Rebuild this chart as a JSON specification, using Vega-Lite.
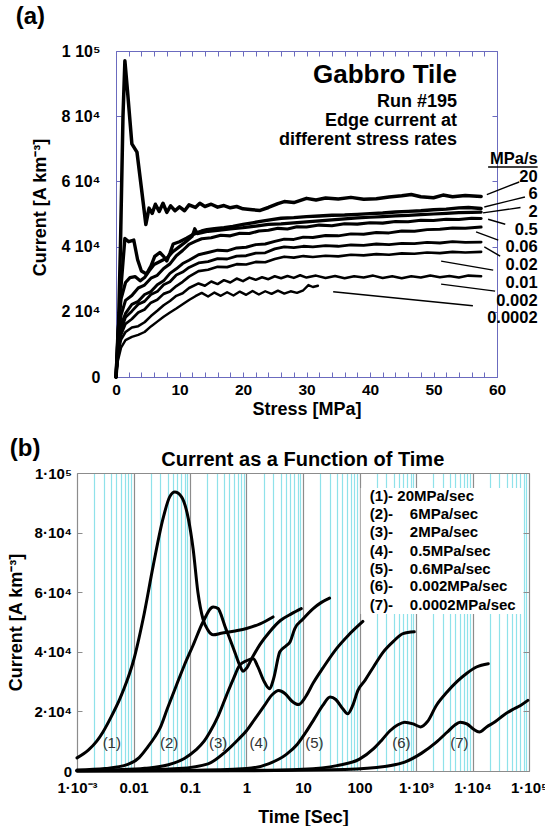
{
"$schema": "https://vega.github.io/schema/vega-lite/v6.json",
"padding": {"left": 7, "top": 4, "right": 0, "bottom": 0},
"spacing": 18,
"config": {
  "font": "Liberation Sans",
  "view": {"stroke": null},
  "axis": {"labelFont": "Liberation Sans", "titleFont": "Liberation Sans", "labelFontWeight": "bold", "titleFontWeight": "bold", "labelColor": "black", "titleColor": "black", "labelFlush": false, "labelOverlap": false, "grid": false},
  "text": {"font": "Liberation Sans"}
},
"datasets": {
  "a": [
    {"r":"20","x":0,"y":0},{"r":"20","x":0.3,"y":8000},{"r":"20","x":0.7,"y":40000},{"r":"20","x":1.1,"y":80000},{"r":"20","x":1.4,"y":97000},{"r":"20","x":1.8,"y":88000},{"r":"20","x":2.5,"y":71500},{"r":"20","x":3.3,"y":69000},{"r":"20","x":4.0,"y":58000},{"r":"20","x":4.7,"y":46800},{"r":"20","x":5.2,"y":51800},{"r":"20","x":5.7,"y":50200},{"r":"20","x":6.2,"y":53000},{"r":"20","x":6.8,"y":50800},{"r":"20","x":7.4,"y":53300},{"r":"20","x":8.0,"y":50500},{"r":"20","x":8.6,"y":52500},{"r":"20","x":9.3,"y":51000},{"r":"20","x":10,"y":52200},{"r":"20","x":10.8,"y":51000},{"r":"20","x":11.5,"y":52800},{"r":"20","x":12.5,"y":52000},{"r":"20","x":13.2,"y":53300},{"r":"20","x":14,"y":52300},{"r":"20","x":15,"y":53000},{"r":"20","x":16,"y":52100},{"r":"20","x":17,"y":52600},{"r":"20","x":18,"y":51900},{"r":"20","x":19,"y":52300},{"r":"20","x":20,"y":51600},{"r":"20","x":21.5,"y":51300},{"r":"20","x":22.7,"y":51100},{"r":"20","x":24,"y":52000},{"r":"20","x":25.5,"y":53200},{"r":"20","x":26.5,"y":53800},{"r":"20","x":28,"y":53500},{"r":"20","x":30,"y":54800},{"r":"20","x":31.5,"y":54300},{"r":"20","x":33,"y":54900},{"r":"20","x":35,"y":54600},{"r":"20","x":37,"y":55100},{"r":"20","x":39,"y":54500},{"r":"20","x":41,"y":54700},{"r":"20","x":43,"y":55200},{"r":"20","x":45,"y":55600},{"r":"20","x":46.5,"y":56000},{"r":"20","x":48,"y":55300},{"r":"20","x":50,"y":55000},{"r":"20","x":51.5,"y":55800},{"r":"20","x":53,"y":55300},{"r":"20","x":55,"y":55700},{"r":"20","x":57.5,"y":55400},
    {"r":"6","x":0,"y":0},{"r":"6","x":0.3,"y":12000},{"r":"6","x":0.8,"y":28000},{"r":"6","x":1.4,"y":42500},{"r":"6","x":2.0,"y":41500},{"r":"6","x":2.8,"y":42000},{"r":"6","x":3.4,"y":36000},{"r":"6","x":4.0,"y":32500},{"r":"6","x":4.8,"y":31600},{"r":"6","x":5.5,"y":34000},{"r":"6","x":6.1,"y":37000},{"r":"6","x":6.9,"y":38200},{"r":"6","x":7.5,"y":37000},{"r":"6","x":8.0,"y":35600},{"r":"6","x":8.5,"y":38000},{"r":"6","x":9.0,"y":40800},{"r":"6","x":10,"y":41500},{"r":"6","x":11.1,"y":42600},{"r":"6","x":12,"y":43600},{"r":"6","x":12.7,"y":44200},{"r":"6","x":13.5,"y":44800},{"r":"6","x":14.3,"y":45200},{"r":"6","x":15.5,"y":45500},{"r":"6","x":17,"y":45800},{"r":"6","x":18.4,"y":46200},{"r":"6","x":20,"y":46800},{"r":"6","x":21.5,"y":47300},{"r":"6","x":23,"y":47800},{"r":"6","x":24.5,"y":48300},{"r":"6","x":26,"y":48700},{"r":"6","x":28,"y":48900},{"r":"6","x":30,"y":49200},{"r":"6","x":32,"y":49400},{"r":"6","x":34,"y":49600},{"r":"6","x":36,"y":49700},{"r":"6","x":38,"y":49900},{"r":"6","x":40,"y":50100},{"r":"6","x":42,"y":50300},{"r":"6","x":44,"y":50600},{"r":"6","x":46,"y":50800},{"r":"6","x":48,"y":51000},{"r":"6","x":50,"y":51300},{"r":"6","x":52,"y":51500},{"r":"6","x":54,"y":51900},{"r":"6","x":55.5,"y":52000},{"r":"6","x":57.5,"y":51700},
    {"r":"2","x":0,"y":0},{"r":"2","x":0.3,"y":14000},{"r":"2","x":0.8,"y":24000},{"r":"2","x":1.5,"y":29000},{"r":"2","x":2.2,"y":30500},{"r":"2","x":3.0,"y":30800},{"r":"2","x":3.8,"y":29500},{"r":"2","x":4.5,"y":30500},{"r":"2","x":5.2,"y":32500},{"r":"2","x":6.0,"y":34500},{"r":"2","x":7.0,"y":35500},{"r":"2","x":8.0,"y":36500},{"r":"2","x":9.0,"y":38500},{"r":"2","x":10,"y":40000},{"r":"2","x":11,"y":41500},{"r":"2","x":12,"y":43200},{"r":"2","x":12.4,"y":45500},{"r":"2","x":12.8,"y":44000},{"r":"2","x":13.5,"y":44300},{"r":"2","x":14.5,"y":44700},{"r":"2","x":16,"y":45000},{"r":"2","x":18,"y":45400},{"r":"2","x":20,"y":45800},{"r":"2","x":22,"y":46300},{"r":"2","x":24,"y":46800},{"r":"2","x":26,"y":47000},{"r":"2","x":28,"y":47300},{"r":"2","x":30,"y":47600},{"r":"2","x":32,"y":47900},{"r":"2","x":34,"y":48200},{"r":"2","x":36,"y":48500},{"r":"2","x":38,"y":48800},{"r":"2","x":40,"y":49000},{"r":"2","x":42,"y":49200},{"r":"2","x":44,"y":49400},{"r":"2","x":46,"y":49600},{"r":"2","x":48,"y":49800},{"r":"2","x":50,"y":50000},{"r":"2","x":52,"y":50200},{"r":"2","x":54,"y":50400},{"r":"2","x":56,"y":50500},{"r":"2","x":57.5,"y":50600},
    {"r":"0.5","x":0,"y":0},{"r":"0.5","x":0.3,"y":12000},{"r":"0.5","x":0.8,"y":19000},{"r":"0.5","x":1.5,"y":23500},{"r":"0.5","x":2.5,"y":25000},{"r":"0.5","x":3.5,"y":27300},{"r":"0.5","x":4.5,"y":28200},{"r":"0.5","x":5.5,"y":30300},{"r":"0.5","x":6.5,"y":31200},{"r":"0.5","x":7.5,"y":33300},{"r":"0.5","x":8.5,"y":34700},{"r":"0.5","x":9.5,"y":37200},{"r":"0.5","x":10.5,"y":38800},{"r":"0.5","x":11.5,"y":40700},{"r":"0.5","x":12.5,"y":41600},{"r":"0.5","x":13.5,"y":42400},{"r":"0.5","x":15,"y":42700},{"r":"0.5","x":16.5,"y":43500},{"r":"0.5","x":18,"y":43300},{"r":"0.5","x":19.5,"y":44100},{"r":"0.5","x":21,"y":44000},{"r":"0.5","x":22.5,"y":44800},{"r":"0.5","x":24,"y":45000},{"r":"0.5","x":25.5,"y":45600},{"r":"0.5","x":27,"y":45400},{"r":"0.5","x":28.5,"y":46100},{"r":"0.5","x":30,"y":46000},{"r":"0.5","x":32,"y":46600},{"r":"0.5","x":34,"y":46400},{"r":"0.5","x":36,"y":47000},{"r":"0.5","x":38,"y":46900},{"r":"0.5","x":40,"y":47300},{"r":"0.5","x":42,"y":47200},{"r":"0.5","x":44,"y":47700},{"r":"0.5","x":46,"y":47600},{"r":"0.5","x":48,"y":48100},{"r":"0.5","x":50,"y":48000},{"r":"0.5","x":52,"y":48400},{"r":"0.5","x":54,"y":48300},{"r":"0.5","x":56,"y":48700},{"r":"0.5","x":57.5,"y":48600},
    {"r":"0.06","x":0,"y":0},{"r":"0.06","x":0.3,"y":10000},{"r":"0.06","x":0.8,"y":16000},{"r":"0.06","x":1.5,"y":19500},{"r":"0.06","x":2.5,"y":22300},{"r":"0.06","x":3.5,"y":23200},{"r":"0.06","x":4.5,"y":25300},{"r":"0.06","x":5.5,"y":26200},{"r":"0.06","x":6.5,"y":28300},{"r":"0.06","x":7.5,"y":29500},{"r":"0.06","x":8.5,"y":31800},{"r":"0.06","x":9.5,"y":33200},{"r":"0.06","x":10.5,"y":34800},{"r":"0.06","x":11.5,"y":35800},{"r":"0.06","x":13,"y":37500},{"r":"0.06","x":14.5,"y":38200},{"r":"0.06","x":16,"y":38900},{"r":"0.06","x":17.5,"y":38700},{"r":"0.06","x":19,"y":39600},{"r":"0.06","x":20.5,"y":39800},{"r":"0.06","x":22,"y":40600},{"r":"0.06","x":23.5,"y":40800},{"r":"0.06","x":25,"y":41600},{"r":"0.06","x":26.5,"y":42300},{"r":"0.06","x":28,"y":42200},{"r":"0.06","x":29.5,"y":42900},{"r":"0.06","x":31,"y":42800},{"r":"0.06","x":33,"y":43400},{"r":"0.06","x":35,"y":43300},{"r":"0.06","x":37,"y":43900},{"r":"0.06","x":39,"y":43800},{"r":"0.06","x":41,"y":44300},{"r":"0.06","x":43,"y":44200},{"r":"0.06","x":45,"y":44800},{"r":"0.06","x":47,"y":44700},{"r":"0.06","x":49,"y":45200},{"r":"0.06","x":51,"y":45300},{"r":"0.06","x":53,"y":45700},{"r":"0.06","x":55,"y":45600},{"r":"0.06","x":57.5,"y":46000},
    {"r":"0.02","x":0,"y":0},{"r":"0.02","x":0.3,"y":9000},{"r":"0.02","x":0.8,"y":14500},{"r":"0.02","x":1.5,"y":18300},{"r":"0.02","x":2.5,"y":20200},{"r":"0.02","x":3.5,"y":22300},{"r":"0.02","x":4.5,"y":23200},{"r":"0.02","x":5.5,"y":25300},{"r":"0.02","x":6.5,"y":26200},{"r":"0.02","x":7.5,"y":28300},{"r":"0.02","x":8.5,"y":29200},{"r":"0.02","x":9.5,"y":31300},{"r":"0.02","x":10.5,"y":32200},{"r":"0.02","x":11.5,"y":33600},{"r":"0.02","x":13,"y":35000},{"r":"0.02","x":14.5,"y":35400},{"r":"0.02","x":16,"y":36300},{"r":"0.02","x":17.5,"y":36200},{"r":"0.02","x":19,"y":37100},{"r":"0.02","x":20.5,"y":37200},{"r":"0.02","x":22,"y":38000},{"r":"0.02","x":23.5,"y":38100},{"r":"0.02","x":25,"y":39300},{"r":"0.02","x":26.5,"y":39900},{"r":"0.02","x":28,"y":39700},{"r":"0.02","x":29.5,"y":40100},{"r":"0.02","x":31,"y":39900},{"r":"0.02","x":33,"y":40300},{"r":"0.02","x":35,"y":40100},{"r":"0.02","x":37,"y":40500},{"r":"0.02","x":39,"y":40400},{"r":"0.02","x":41,"y":40800},{"r":"0.02","x":43,"y":40600},{"r":"0.02","x":45,"y":41000},{"r":"0.02","x":47,"y":40900},{"r":"0.02","x":49,"y":41300},{"r":"0.02","x":51,"y":41100},{"r":"0.02","x":53,"y":41500},{"r":"0.02","x":55,"y":41300},{"r":"0.02","x":57.5,"y":41400},
    {"r":"0.01","x":0,"y":0},{"r":"0.01","x":0.3,"y":8000},{"r":"0.01","x":0.8,"y":13000},{"r":"0.01","x":1.5,"y":16300},{"r":"0.01","x":2.5,"y":17800},{"r":"0.01","x":3.5,"y":19800},{"r":"0.01","x":4.5,"y":20700},{"r":"0.01","x":5.5,"y":22800},{"r":"0.01","x":6.5,"y":23700},{"r":"0.01","x":7.5,"y":25500},{"r":"0.01","x":8.5,"y":26200},{"r":"0.01","x":9.5,"y":27900},{"r":"0.01","x":10.5,"y":29200},{"r":"0.01","x":11.5,"y":30800},{"r":"0.01","x":13,"y":32500},{"r":"0.01","x":14.5,"y":32900},{"r":"0.01","x":16,"y":33800},{"r":"0.01","x":17.5,"y":33700},{"r":"0.01","x":19,"y":34600},{"r":"0.01","x":20.5,"y":34500},{"r":"0.01","x":22,"y":35300},{"r":"0.01","x":23.5,"y":35200},{"r":"0.01","x":25,"y":36200},{"r":"0.01","x":26.5,"y":36900},{"r":"0.01","x":28,"y":36600},{"r":"0.01","x":29.5,"y":37100},{"r":"0.01","x":31,"y":36800},{"r":"0.01","x":33,"y":37200},{"r":"0.01","x":35,"y":37000},{"r":"0.01","x":37,"y":37500},{"r":"0.01","x":39,"y":37300},{"r":"0.01","x":41,"y":37700},{"r":"0.01","x":43,"y":37500},{"r":"0.01","x":45,"y":37900},{"r":"0.01","x":47,"y":37800},{"r":"0.01","x":49,"y":38200},{"r":"0.01","x":51,"y":38000},{"r":"0.01","x":53,"y":38400},{"r":"0.01","x":55,"y":38200},{"r":"0.01","x":57.5,"y":38400},
    {"r":"0.002","x":0,"y":0},{"r":"0.002","x":0.3,"y":7000},{"r":"0.002","x":0.8,"y":11500},{"r":"0.002","x":1.5,"y":13800},{"r":"0.002","x":2.5,"y":15200},{"r":"0.002","x":3.5,"y":15600},{"r":"0.002","x":4.5,"y":16800},{"r":"0.002","x":5.5,"y":18700},{"r":"0.002","x":6.5,"y":20300},{"r":"0.002","x":7.5,"y":22000},{"r":"0.002","x":8.5,"y":23300},{"r":"0.002","x":9.5,"y":24900},{"r":"0.002","x":10.5,"y":25700},{"r":"0.002","x":11.5,"y":27300},{"r":"0.002","x":13,"y":28700},{"r":"0.002","x":14,"y":28000},{"r":"0.002","x":15,"y":29300},{"r":"0.002","x":16,"y":28500},{"r":"0.002","x":17,"y":29700},{"r":"0.002","x":18,"y":29000},{"r":"0.002","x":19,"y":30200},{"r":"0.002","x":20,"y":29400},{"r":"0.002","x":21,"y":30500},{"r":"0.002","x":22,"y":29800},{"r":"0.002","x":23,"y":30600},{"r":"0.002","x":24,"y":30000},{"r":"0.002","x":25,"y":30900},{"r":"0.002","x":26,"y":30300},{"r":"0.002","x":27,"y":31000},{"r":"0.002","x":28,"y":30400},{"r":"0.002","x":29,"y":31200},{"r":"0.002","x":30,"y":30500},{"r":"0.002","x":31.5,"y":31100},{"r":"0.002","x":33,"y":30400},{"r":"0.002","x":34.5,"y":31000},{"r":"0.002","x":36,"y":30300},{"r":"0.002","x":37.5,"y":30900},{"r":"0.002","x":39,"y":30500},{"r":"0.002","x":40.5,"y":31100},{"r":"0.002","x":42,"y":30400},{"r":"0.002","x":43.5,"y":30900},{"r":"0.002","x":45,"y":30300},{"r":"0.002","x":46.5,"y":30900},{"r":"0.002","x":48,"y":30500},{"r":"0.002","x":49.5,"y":31100},{"r":"0.002","x":51,"y":30600},{"r":"0.002","x":52.5,"y":31000},{"r":"0.002","x":54,"y":30500},{"r":"0.002","x":55.5,"y":31100},{"r":"0.002","x":57.5,"y":30900},
    {"r":"0.0002","x":0,"y":0},{"r":"0.0002","x":0.3,"y":5000},{"r":"0.0002","x":0.8,"y":9000},{"r":"0.0002","x":1.5,"y":11300},{"r":"0.0002","x":2.5,"y":12300},{"r":"0.0002","x":3.5,"y":12900},{"r":"0.0002","x":4.5,"y":13800},{"r":"0.0002","x":5.5,"y":15500},{"r":"0.0002","x":6.5,"y":17000},{"r":"0.0002","x":7.5,"y":18500},{"r":"0.0002","x":8.5,"y":19800},{"r":"0.0002","x":9.5,"y":21000},{"r":"0.0002","x":10.5,"y":22300},{"r":"0.0002","x":11.5,"y":23600},{"r":"0.0002","x":12.5,"y":24800},{"r":"0.0002","x":13.5,"y":25800},{"r":"0.0002","x":14.5,"y":24700},{"r":"0.0002","x":15.5,"y":25900},{"r":"0.0002","x":16.5,"y":24900},{"r":"0.0002","x":17.5,"y":26000},{"r":"0.0002","x":18.5,"y":25000},{"r":"0.0002","x":19.5,"y":26200},{"r":"0.0002","x":20.5,"y":25200},{"r":"0.0002","x":21.5,"y":26400},{"r":"0.0002","x":22.5,"y":25300},{"r":"0.0002","x":23.5,"y":26300},{"r":"0.0002","x":24.5,"y":25500},{"r":"0.0002","x":25.5,"y":26500},{"r":"0.0002","x":26.5,"y":25600},{"r":"0.0002","x":27.5,"y":26300},{"r":"0.0002","x":28.5,"y":25800},{"r":"0.0002","x":29.5,"y":26600},{"r":"0.0002","x":30.3,"y":28200},{"r":"0.0002","x":31,"y":27600},{"r":"0.0002","x":31.8,"y":28000}
  ],
  "aleader": [
    {"r":"20","x1":58.4,"y1":55960,"x2":63.5,"y2":59820},
    {"r":"6","x1":58.0,"y1":52160,"x2":64.4,"y2":55230},
    {"r":"2","x1":57.8,"y1":50330,"x2":63.7,"y2":51980},
    {"r":"0.5","x1":58.6,"y1":48400,"x2":61.3,"y2":46860},
    {"r":"0.06","x1":56.7,"y1":44500,"x2":60.2,"y2":41960},
    {"r":"0.02","x1":58.0,"y1":39910,"x2":60.5,"y2":37060},
    {"r":"0.01","x1":51.2,"y1":35530,"x2":59.4,"y2":32780},
    {"r":"0.002","x1":51.2,"y1":28490,"x2":59.7,"y2":26340},
    {"r":"0.0002","x1":34.2,"y1":26130,"x2":56.2,"y2":21840},
    {"r":"MPa/s","x1":58.6,"y1":64400,"x2":66.4,"y2":64400}
  ],
  "arates": [
    {"label":"MPa/s","x":66.4,"y":66800},
    {"label":"20","x":66.4,"y":61350},
    {"label":"6","x":66.4,"y":56270},
    {"label":"2","x":66.4,"y":50630},
    {"label":"0.5","x":66.4,"y":45240},
    {"label":"0.06","x":66.4,"y":39730},
    {"label":"0.02","x":66.4,"y":34310},
    {"label":"0.01","x":66.4,"y":28700},
    {"label":"0.002","x":66.4,"y":23280},
    {"label":"0.0002","x":66.4,"y":17970}
  ],
  "anotes": [
    {"label":"Run #195","x":53.7,"y":84230},
    {"label":"Edge current at","x":53.7,"y":78410},
    {"label":"different stress rates","x":53.7,"y":72590}
  ],
  "atitle": [
    {"label":"Gabbro Tile","x":53.7,"y":92500}
  ],
  "apanel": [
    {"label":"(a)","x":-15.8,"y":110570}
  ],
  "b": [
    {"s":"1","t":0.001,"c":4400},{"s":"1","t":0.001585,"c":7000},{"s":"1","t":0.002239,"c":10000},{"s":"1","t":0.002884,"c":13100},{"s":"1","t":0.003981,"c":18000},{"s":"1","t":0.005754,"c":24300},{"s":"1","t":0.007586,"c":30000},{"s":"1","t":0.01,"c":37000},{"s":"1","t":0.01479,"c":51000},{"s":"1","t":0.02239,"c":69000},{"s":"1","t":0.03311,"c":84500},{"s":"1","t":0.04365,"c":92000},{"s":"1","t":0.0537,"c":93600},{"s":"1","t":0.07079,"c":92000},{"s":"1","t":0.09333,"c":84700},{"s":"1","t":0.1135,"c":74600},{"s":"1","t":0.138,"c":60000},{"s":"1","t":0.1698,"c":51000},{"s":"1","t":0.2089,"c":47200},{"s":"1","t":0.257,"c":45700},{"s":"1","t":0.3548,"c":46200},{"s":"1","t":0.631,"c":47000},{"s":"1","t":1,"c":47800},{"s":"1","t":1.738,"c":49400},{"s":"1","t":2.951,"c":51700},
    {"s":"2","t":0.001,"c":300},{"s":"2","t":0.003162,"c":800},{"s":"2","t":0.007943,"c":2200},{"s":"2","t":0.01259,"c":4500},{"s":"2","t":0.01778,"c":8000},{"s":"2","t":0.02399,"c":11500},{"s":"2","t":0.02917,"c":14200},{"s":"2","t":0.03981,"c":21000},{"s":"2","t":0.05754,"c":28800},{"s":"2","t":0.07943,"c":35500},{"s":"2","t":0.1135,"c":42200},{"s":"2","t":0.1698,"c":50000},{"s":"2","t":0.257,"c":55000},{"s":"2","t":0.3162,"c":54500},{"s":"2","t":0.3388,"c":53400},{"s":"2","t":0.4169,"c":48500},{"s":"2","t":0.5058,"c":44400},{"s":"2","t":0.631,"c":39500},{"s":"2","t":0.7586,"c":35500},{"s":"2","t":0.871,"c":33500},{"s":"2","t":1,"c":34500},{"s":"2","t":1.259,"c":38000},{"s":"2","t":1.738,"c":42500},{"s":"2","t":2.512,"c":46500},{"s":"2","t":3.981,"c":50500},{"s":"2","t":6.31,"c":52800},{"s":"2","t":9.333,"c":54500},
    {"s":"3","t":0.001,"c":150},{"s":"3","t":0.005012,"c":400},{"s":"3","t":0.01585,"c":900},{"s":"3","t":0.03981,"c":2000},{"s":"3","t":0.07943,"c":4200},{"s":"3","t":0.1259,"c":7000},{"s":"3","t":0.1778,"c":10000},{"s":"3","t":0.2239,"c":13000},{"s":"3","t":0.3162,"c":18500},{"s":"3","t":0.4426,"c":25400},{"s":"3","t":0.5888,"c":31000},{"s":"3","t":0.7586,"c":35500},{"s":"3","t":1,"c":37000},{"s":"3","t":1.318,"c":37700},{"s":"3","t":1.585,"c":35000},{"s":"3","t":1.995,"c":30500},{"s":"3","t":2.57,"c":27600},{"s":"3","t":3.02,"c":31000},{"s":"3","t":3.89,"c":40000},{"s":"3","t":5.012,"c":42000},{"s":"3","t":5.888,"c":43300},{"s":"3","t":7.161,"c":47800},{"s":"3","t":10,"c":51000},{"s":"3","t":15.14,"c":54500},{"s":"3","t":20.89,"c":56500},{"s":"3","t":29.51,"c":58000},
    {"s":"4","t":0.001,"c":100},{"s":"4","t":0.01,"c":250},{"s":"4","t":0.0631,"c":800},{"s":"4","t":0.2089,"c":2400},{"s":"4","t":0.4266,"c":6500},{"s":"4","t":0.7079,"c":10500},{"s":"4","t":1,"c":13500},{"s":"4","t":1.413,"c":17500},{"s":"4","t":1.995,"c":21500},{"s":"4","t":2.818,"c":25500},{"s":"4","t":3.715,"c":27000},{"s":"4","t":4.786,"c":26000},{"s":"4","t":6.31,"c":23500},{"s":"4","t":8.318,"c":22300},{"s":"4","t":11.22,"c":25000},{"s":"4","t":15.14,"c":29500},{"s":"4","t":22.39,"c":34500},{"s":"4","t":38.9,"c":41000},{"s":"4","t":63.1,"c":45500},{"s":"4","t":114.8,"c":50200},
    {"s":"5","t":0.001,"c":50},{"s":"5","t":0.1,"c":200},{"s":"5","t":1,"c":800},{"s":"5","t":2.512,"c":2500},{"s":"5","t":5.012,"c":5500},{"s":"5","t":7.943,"c":9000},{"s":"5","t":11.22,"c":13000},{"s":"5","t":15.85,"c":17500},{"s":"5","t":22.39,"c":22000},{"s":"5","t":30.2,"c":24800},{"s":"5","t":38.02,"c":24000},{"s":"5","t":50.12,"c":21000},{"s":"5","t":61.66,"c":19200},{"s":"5","t":75.86,"c":22000},{"s":"5","t":93.33,"c":27000},{"s":"5","t":125.9,"c":30500},{"s":"5","t":177.8,"c":35000},{"s":"5","t":263,"c":39900},{"s":"5","t":398.1,"c":43500},{"s":"5","t":588.8,"c":46100},{"s":"5","t":933.3,"c":46700},
    {"s":"6","t":0.001,"c":50},{"s":"6","t":1,"c":200},{"s":"6","t":10,"c":600},{"s":"6","t":39.81,"c":1800},{"s":"6","t":100,"c":4000},{"s":"6","t":177.8,"c":7500},{"s":"6","t":251.2,"c":10500},{"s":"6","t":346.7,"c":13500},{"s":"6","t":478.6,"c":15500},{"s":"6","t":631,"c":16400},{"s":"6","t":891.3,"c":15800},{"s":"6","t":1202,"c":14800},{"s":"6","t":1585,"c":16500},{"s":"6","t":2291,"c":22000},{"s":"6","t":3548,"c":26500},{"s":"6","t":5248,"c":29900},{"s":"6","t":7943,"c":32800},{"s":"6","t":11750,"c":34900},{"s":"6","t":19050,"c":36000},
    {"s":"7","t":0.001,"c":30},{"s":"7","t":1,"c":100},{"s":"7","t":31.62,"c":400},{"s":"7","t":199.5,"c":1200},{"s":"7","t":631,"c":3000},{"s":"7","t":1259,"c":6000},{"s":"7","t":2239,"c":9500},{"s":"7","t":3548,"c":13000},{"s":"7","t":4786,"c":15300},{"s":"7","t":6026,"c":16400},{"s":"7","t":7943,"c":15800},{"s":"7","t":10470,"c":14000},{"s":"7","t":13180,"c":13100},{"s":"7","t":17780,"c":14800},{"s":"7","t":25120,"c":16500},{"s":"7","t":35480,"c":18700},{"s":"7","t":50120,"c":20500},{"s":"7","t":70790,"c":22000},{"s":"7","t":95500,"c":23700}
  ],
  "bnums": [
    {"label":"(1)","t":0.00413,"c":9400},{"label":"(2)","t":0.0427,"c":9400},{"label":"(3)","t":0.314,"c":9400},{"label":"(4)","t":1.65,"c":9400},{"label":"(5)","t":15.9,"c":9400},{"label":"(6)","t":550,"c":9400},{"label":"(7)","t":5840,"c":9400}
  ],
  "bbox": [
    {"t1":105,"t2":78000,"c1":52700,"c2":95000}
  ],
  "blegend": [
    {"label":"(1)- 20MPa/sec","t":152.1,"c":92190},
    {"label":"(2)-\u00a0\u00a0\u00a0\u00a06MPa/sec","t":152.1,"c":86150},
    {"label":"(3)-\u00a0\u00a0\u00a0\u00a02MPa/sec","t":152.1,"c":80210},
    {"label":"(4)-\u00a0\u00a0\u00a0\u00a00.5MPa/sec","t":152.1,"c":73900},
    {"label":"(5)-\u00a0\u00a0\u00a0\u00a00.6MPa/sec","t":152.1,"c":67890},
    {"label":"(6)-\u00a0\u00a0\u00a0\u00a00.002MPa/sec","t":152.1,"c":61980},
    {"label":"(7)-\u00a0\u00a0\u00a0\u00a00.0002MPa/sec","t":152.1,"c":55810}
  ],
  "btitle": [
    {"label":"Current as a Function of Time","t":9.9,"c":104400}
  ],
  "bpanel": [
    {"label":"(b)","t":0.0000647,"c":108170}
  ]
},
"vconcat": [
  {
    "width": 420,
    "height": 326,
    "resolve": {"axis": {"x": "independent", "y": "independent"}},
    "layer": [
      {
        "data": {"name": "a"},
        "mark": {"type": "line", "color": "black", "strokeJoin": "round", "strokeCap": "round"},
        "encoding": {
          "x": {"field": "x", "type": "quantitative", "scale": {"domain": [0, 60], "range": [39, 420], "nice": false, "zero": false},
                "axis": {"orient": "bottom", "values": [0,2,4,6,8,10,12,14,16,18,20,22,24,26,28,30,32,34,36,38,40,42,44,46,48,50,52,54,56,58,60],
                         "labelExpr": "datum.value % 10 == 0 ? datum.label : ''", "labelFontSize": 15.5, "labelPadding": 10,
                         "tickSize": -5, "tickColor": "#6b6bbf", "domainColor": "#6b6bbf",
                         "title": "Stress [MPa]", "titleFontSize": 18, "titleX": 229.5, "titleY": 32, "titleBaseline": "middle"}},
          "y": {"field": "y", "type": "quantitative", "scale": {"domain": [0, 100000], "nice": false},
                "axis": {"orient": "left", "offset": -39, "values": [0,20000,40000,60000,80000,100000],
                         "labelExpr": "datum.value == 0 ? '0' : datum.value == 100000 ? '1 10⁵' : (datum.value/10000) + ' 10⁴'",
                         "labelFontSize": 16, "labelPadding": 21, "tickSize": -5, "tickColor": "#6b6bbf", "domainColor": "#6b6bbf",
                         "title": "Current [A km⁻³]", "titleFontSize": 18, "titleX": -76, "titleY": 156, "titleAngle": -90, "titleAlign": "center", "titleBaseline": "middle"}},
          "detail": {"field": "r"},
          "strokeWidth": {"field": "r", "type": "nominal", "scale": {"domain": ["20","6","2","0.5","0.06","0.02","0.01","0.002","0.0002"], "range": [3.5,2.4,2,1.8,1.8,1.8,1.8,2,2]}, "legend": null}
        }
      },
      {
        "data": {"name": "aleader"},
        "mark": {"type": "rule", "color": "black", "strokeWidth": 1.4},
        "encoding": {
          "x": {"field": "x1", "type": "quantitative", "scale": {"domain": [0, 60], "range": [39, 420], "nice": false, "zero": false},
                "axis": {"orient": "top", "values": [0,2,4,6,8,10,12,14,16,18,20,22,24,26,28,30,32,34,36,38,40,42,44,46,48,50,52,54,56,58,60], "labels": false, "tickSize": -5, "tickColor": "#6b6bbf", "domainColor": "#6b6bbf", "title": null}},
          "y": {"field": "y1", "type": "quantitative", "scale": {"domain": [0, 100000], "nice": false},
                "axis": {"orient": "right", "values": [0,20000,40000,60000,80000,100000], "labels": false, "tickSize": -5, "tickColor": "#6b6bbf", "domainColor": "#6b6bbf", "title": null}},
          "x2": {"field": "x2"},
          "y2": {"field": "y2"}
        }
      },
      {
        "data": {"name": "arates"},
        "mark": {"type": "text", "align": "right", "baseline": "middle", "fontSize": 16.5, "fontWeight": "bold", "color": "black"},
        "encoding": {
          "x": {"field": "x", "type": "quantitative", "scale": {"domain": [0, 60], "range": [39, 420], "nice": false, "zero": false}, "axis": null},
          "y": {"field": "y", "type": "quantitative", "scale": {"domain": [0, 100000], "nice": false}, "axis": null},
          "text": {"field": "label"}
        }
      },
      {
        "data": {"name": "anotes"},
        "mark": {"type": "text", "align": "right", "baseline": "middle", "fontSize": 18, "fontWeight": "bold", "color": "black"},
        "encoding": {
          "x": {"field": "x", "type": "quantitative", "scale": {"domain": [0, 60], "range": [39, 420], "nice": false, "zero": false}, "axis": null},
          "y": {"field": "y", "type": "quantitative", "scale": {"domain": [0, 100000], "nice": false}, "axis": null},
          "text": {"field": "label"}
        }
      },
      {
        "data": {"name": "atitle"},
        "mark": {"type": "text", "align": "right", "baseline": "middle", "fontSize": 26, "fontWeight": "bold", "color": "black"},
        "encoding": {
          "x": {"field": "x", "type": "quantitative", "scale": {"domain": [0, 60], "range": [39, 420], "nice": false, "zero": false}, "axis": null},
          "y": {"field": "y", "type": "quantitative", "scale": {"domain": [0, 100000], "nice": false}, "axis": null},
          "text": {"field": "label"}
        }
      },
      {
        "data": {"name": "apanel"},
        "mark": {"type": "text", "align": "left", "baseline": "middle", "fontSize": 24, "fontWeight": "bold", "color": "black"},
        "encoding": {
          "x": {"field": "x", "type": "quantitative", "scale": {"domain": [0, 60], "range": [39, 420], "nice": false, "zero": false}, "axis": null},
          "y": {"field": "y", "type": "quantitative", "scale": {"domain": [0, 100000], "nice": false}, "axis": null},
          "text": {"field": "label"}
        }
      }
    ]
  },
  {
    "width": 452,
    "height": 298,
    "resolve": {"axis": {"x": "independent", "y": "independent"}},
    "layer": [
      {
        "data": {"name": "b"},
        "mark": {"type": "line", "color": "black", "strokeWidth": 3, "interpolate": "monotone", "strokeCap": "round"},
        "encoding": {
          "x": {"field": "t", "type": "quantitative", "scale": {"type": "log", "domain": [0.001, 100000], "nice": false},
                "axis": {"orient": "bottom", "values": [0.001,0.01,0.1,1,10,100,1000,10000,100000], "grid": true, "gridColor": "#8c8c8c", "gridWidth": 1.2,
                         "ticks": false, "domainColor": "#8c8c8c",
                         "labelExpr": "datum.value < 0.005 ? '1·10⁻³' : datum.value < 0.05 ? '0.01' : datum.value < 0.5 ? '0.1' : datum.value < 5 ? '1' : datum.value < 50 ? '10' : datum.value < 500 ? '100' : datum.value < 5000 ? '1·10³' : datum.value < 50000 ? '1·10⁴' : '1·10⁵'",
                         "labelFontSize": 15, "labelPadding": 9,
                         "title": "Time [Sec]", "titleFontSize": 18, "titleY": 46, "titleBaseline": "middle"}},
          "y": {"field": "c", "type": "quantitative", "scale": {"domain": [0, 100000], "nice": false},
                "axis": {"orient": "left", "values": [0,20000,40000,60000,80000,100000],
                         "labelExpr": "datum.value == 0 ? '0' : datum.value == 100000 ? '1·10⁵' : (datum.value/10000) + '·10⁴'",
                         "labelFontSize": 15, "labelPadding": 10.5, "tickSize": -5, "tickColor": "#8c8c8c", "domainColor": "#8c8c8c",
                         "title": "Current [A km⁻³]", "titleFontSize": 18, "titleX": -61, "titleY": 149, "titleAngle": -90, "titleAlign": "center", "titleBaseline": "middle"}},
          "detail": {"field": "s"}
        }
      },
      {
        "data": {"name": "bnums"},
        "mark": {"type": "text", "align": "center", "baseline": "middle", "fontSize": 15, "color": "#333333"},
        "encoding": {
          "x": {"field": "t", "type": "quantitative", "scale": {"type": "log", "domain": [0.001, 100000], "nice": false},
                "axis": {"orient": "top", "values": [0.002,0.003,0.004,0.005,0.006,0.007,0.008,0.009,0.02,0.03,0.04,0.05,0.06,0.07,0.08,0.09,0.2,0.3,0.4,0.5,0.6,0.7,0.8,0.9,2,3,4,5,6,7,8,9,20,30,40,50,60,70,80,90,200,300,400,500,600,700,800,900,2000,3000,4000,5000,6000,7000,8000,9000,20000,30000,40000,50000,60000,70000,80000,90000],
                         "grid": true, "gridColor": "#8fe2ea", "gridWidth": 1.2, "ticks": false, "labels": false, "domainColor": "#8c8c8c", "title": null}},
          "y": {"field": "c", "type": "quantitative", "scale": {"domain": [0, 100000], "nice": false},
                "axis": {"orient": "right", "values": [0,20000,40000,60000,80000,100000], "labels": false, "tickSize": -6, "tickColor": "#8c8c8c", "domainColor": "#8c8c8c", "title": null}},
          "text": {"field": "label"}
        }
      },
      {
        "data": {"name": "bbox"},
        "mark": {"type": "rect", "fill": "white"},
        "encoding": {
          "x": {"field": "t1", "type": "quantitative", "scale": {"type": "log", "domain": [0.001, 100000], "nice": false}, "axis": null},
          "x2": {"field": "t2"},
          "y": {"field": "c1", "type": "quantitative", "scale": {"domain": [0, 100000], "nice": false}, "axis": null},
          "y2": {"field": "c2"}
        }
      },
      {
        "data": {"name": "blegend"},
        "mark": {"type": "text", "align": "left", "baseline": "middle", "fontSize": 15, "fontWeight": "bold", "color": "black"},
        "encoding": {
          "x": {"field": "t", "type": "quantitative", "scale": {"type": "log", "domain": [0.001, 100000], "nice": false}, "axis": null},
          "y": {"field": "c", "type": "quantitative", "scale": {"domain": [0, 100000], "nice": false}, "axis": null},
          "text": {"field": "label"}
        }
      },
      {
        "data": {"name": "btitle"},
        "mark": {"type": "text", "align": "center", "baseline": "middle", "fontSize": 20, "fontWeight": "bold", "color": "black"},
        "encoding": {
          "x": {"field": "t", "type": "quantitative", "scale": {"type": "log", "domain": [0.001, 100000], "nice": false}, "axis": null},
          "y": {"field": "c", "type": "quantitative", "scale": {"domain": [0, 100000], "nice": false}, "axis": null},
          "text": {"field": "label"}
        }
      },
      {
        "data": {"name": "bpanel"},
        "mark": {"type": "text", "align": "left", "baseline": "middle", "fontSize": 24, "fontWeight": "bold", "color": "black"},
        "encoding": {
          "x": {"field": "t", "type": "quantitative", "scale": {"type": "log", "domain": [0.001, 100000], "nice": false}, "axis": null},
          "y": {"field": "c", "type": "quantitative", "scale": {"domain": [0, 100000], "nice": false}, "axis": null},
          "text": {"field": "label"}
        }
      }
    ]
  }
]
}
